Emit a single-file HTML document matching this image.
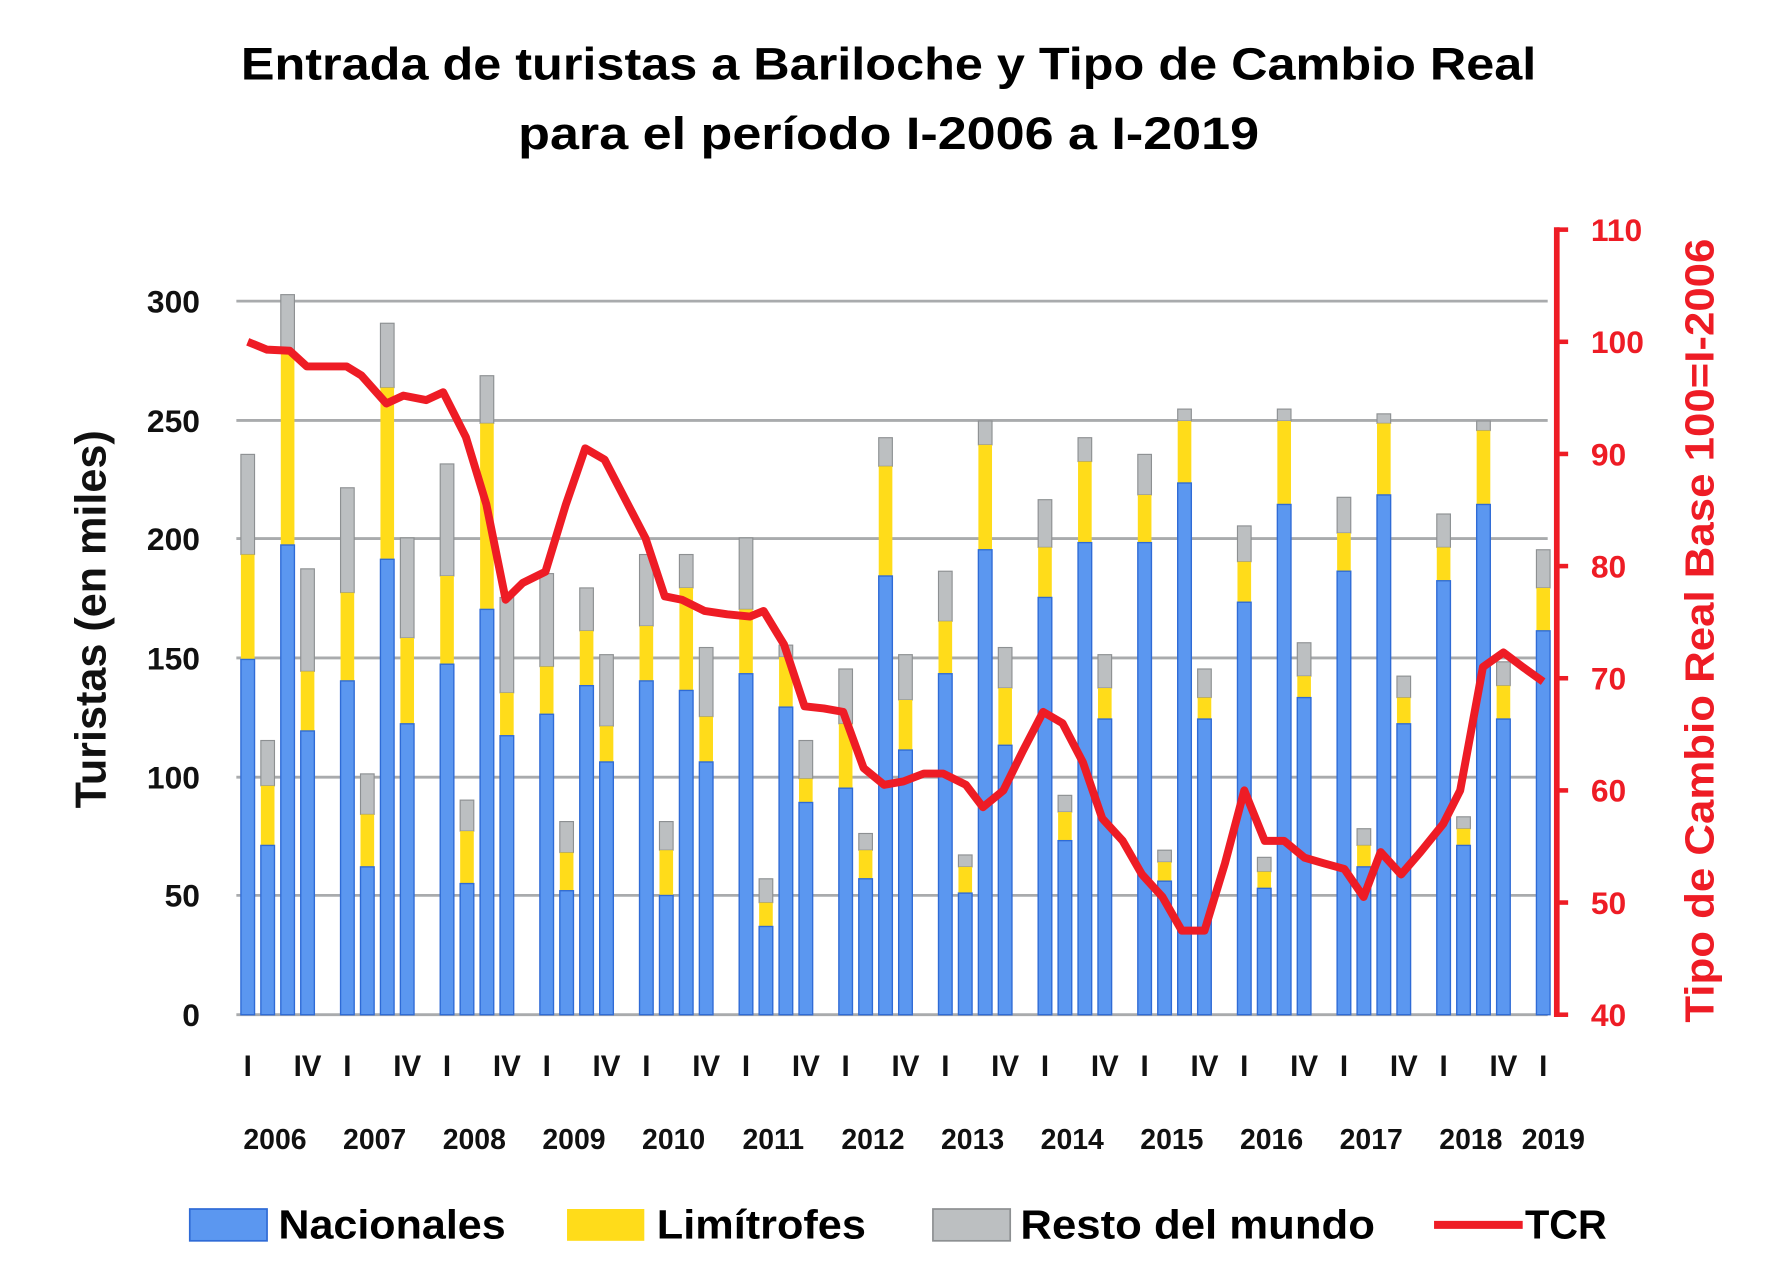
<!DOCTYPE html>
<html><head><meta charset="utf-8"><style>html,body{margin:0;padding:0;background:#fff}svg{display:block}</style></head>
<body>
<svg width="1767" height="1284" viewBox="0 0 1555 1130" preserveAspectRatio="none" xmlns="http://www.w3.org/2000/svg" font-family="Liberation Sans, sans-serif" font-weight="bold">
<text x="782" y="70" font-size="40" text-anchor="middle" textLength="1140" lengthAdjust="spacingAndGlyphs">Entrada de turistas a Bariloche y Tipo de Cambio Real</text>
<text x="782" y="131" font-size="40" text-anchor="middle" textLength="652" lengthAdjust="spacingAndGlyphs">para el período I-2006 a I-2019</text>
<g stroke="#a9abad" stroke-width="2.5">
<line x1="208" y1="265" x2="1362" y2="265"/><line x1="208" y1="370" x2="1362" y2="370"/><line x1="208" y1="474" x2="1362" y2="474"/><line x1="208" y1="579" x2="1362" y2="579"/><line x1="208" y1="684" x2="1362" y2="684"/><line x1="208" y1="788" x2="1362" y2="788"/><line x1="208" y1="893" x2="1362" y2="893"/>
</g>
<g font-size="28" text-anchor="end" fill="#111">
<text x="176" y="275">300</text><text x="176" y="380">250</text><text x="176" y="484">200</text><text x="176" y="589">150</text><text x="176" y="694">100</text><text x="176" y="798">50</text><text x="176" y="903">0</text>
</g>
<text transform="translate(93,545) rotate(-90)" font-size="38" text-anchor="middle" fill="#111">Turistas (en miles)</text>
<g id="bars"></g>
<polyline fill="none" stroke="#ee1c25" stroke-width="7" stroke-linejoin="round" points=""/>
<line x1="1370" y1="200" x2="1370" y2="895" stroke="#ee1c25" stroke-width="5"/>
<g stroke="#ee1c25" stroke-width="4" id="rt"></g>
<g font-size="28" fill="#ee1c25" id="rl"></g>
<text transform="translate(1508,555) rotate(-90)" font-size="36" text-anchor="middle" fill="#ee1c25" textLength="690" lengthAdjust="spacingAndGlyphs">Tipo de Cambio Real Base 100=I-2006</text>
<g font-size="26" fill="#111" text-anchor="middle" id="cat"></g>
<g font-size="25" fill="#111" text-anchor="middle" id="yrs"></g>
<rect x="167" y="1064" width="68" height="28" fill="#5b97f0" stroke="#2f6bd6" stroke-width="1.5"/>
<text x="245" y="1090" font-size="36" textLength="200" lengthAdjust="spacingAndGlyphs">Nacionales</text>
<rect x="499" y="1064" width="68" height="28" fill="#ffdc1a"/>
<text x="578" y="1090" font-size="36" textLength="184" lengthAdjust="spacingAndGlyphs">Limítrofes</text>
<rect x="821" y="1064" width="68" height="28" fill="#bcbfc1" stroke="#8d9092" stroke-width="1.5"/>
<text x="898" y="1090" font-size="36" textLength="312" lengthAdjust="spacingAndGlyphs">Resto del mundo</text>
<line x1="1262" y1="1078" x2="1340" y2="1078" stroke="#ee1c25" stroke-width="7"/>
<text x="1342" y="1090" font-size="36" textLength="72" lengthAdjust="spacingAndGlyphs">TCR</text>
<script>
var d=[[149,193,235],[71,96,115],[197,278,302],[119,144,187],[140,177,221],[62,84,101],[191,263,290],[122,158,200],[147,184,231],[55,77,90],[170,248,268],[117,135,175],[126,146,185],[52,68,81],[138,161,179],[106,121,151],[140,163,193],[50,69,81],[136,179,193],[106,125,154],[143,170,200],[37,47,57],[129,150,155],[89,99,115],[95,122,145],[57,69,76],[184,230,242],[111,132,151],[143,165,186],[51,62,67],[195,239,249],[113,137,154],[175,196,216],[73,85,92],[198,232,242],[124,137,151],[198,218,235],[56,64,69],[223,249,254],[124,133,145],[173,190,205],[53,60,66],[214,249,254],[133,142,156],[186,202,217],[62,71,78],[218,248,252],[122,133,142],[182,196,210],[71,78,83],[214,245,249],[124,138,148],[161,179,195]];
var NS="http://www.w3.org/2000/svg";function el(t,a,p){var e=document.createElementNS(NS,t);for(var k in a)e.setAttribute(k,a[k]);p.appendChild(e);return e}
function Y(v){return 893-v*629.5/300}
function X(i){return 218+Math.floor(i/4)*87.7+(i%4)*17.55}
var g=document.getElementById('bars');
d.forEach(function(r,i){var x=X(i)-6,w=12;
el('rect',{x:x,y:Y(r[2]),width:w,height:Y(r[1])-Y(r[2]),fill:'#bcbfc1',stroke:'#8d9092','stroke-width':1},g);
el('rect',{x:x,y:Y(r[1]),width:w,height:Y(r[0])-Y(r[1]),fill:'#ffdc1a'},g);
el('rect',{x:x,y:Y(r[0]),width:w,height:893-Y(r[0]),fill:'#5b97f0',stroke:'#2f6bd6','stroke-width':1.2},g);});
var t=[[218,100],[235,99.3],[255,99.2],[270,97.8],[305,97.8],[318,97],[340,94.5],[355,95.2],[375,94.8],[390,95.5],[410,91.5],[428,85.5],[445,77],[460,78.5],[480,79.5],[498,85.5],[515,90.5],[532,89.5],[550,86],[568,82.5],[585,77.3],[600,77],[620,76],[640,75.7],[660,75.5],[672,76],[690,73],[708,67.5],[725,67.3],[742,67],[760,62],[778,60.5],[795,60.8],[813,61.5],[830,61.5],[850,60.5],[865,58.5],[883,60],[900,63.5],[918,67],[935,66],[953,62.5],[970,57.5],[988,55.5],[1005,52.5],[1023,50.5],[1040,47.5],[1060,47.5],[1078,53.5],[1095,60],[1113,55.5],[1130,55.5],[1148,54],[1165,53.5],[1183,53],[1200,50.5],[1215,54.5],[1233,52.5],[1250,54.5],[1270,57],[1285,60],[1305,71],[1323,72.3],[1340,71],[1358,69.7]];
function R(v){return 893-(v-40)*98.7/10}
document.querySelector('polyline').setAttribute('points',t.map(function(p){return p[0]+','+R(p[1]).toFixed(1)}).join(' '));
var rt=document.getElementById('rt'),rl=document.getElementById('rl');
for(var v=40;v<=110;v+=10){el('line',{x1:1370,y1:R(v),x2:1380,y2:R(v)},rt);var tx=el('text',{x:1400,y:R(v)+10},rl);tx.textContent=v;}
var c=document.getElementById('cat'),ys=document.getElementById('yrs');
for(var y=0;y<14;y++){var x0=218+y*87.7;var a=el('text',{x:x0,y:947},c);a.textContent='I';
if(y<13){var b=el('text',{x:x0+3*17.55,y:947},c);b.textContent='IV';}
var yt=el('text',{x:y<13?x0+24:1367,y:1011},ys);yt.textContent=2006+y;}
</script>
</svg>
</body></html>
